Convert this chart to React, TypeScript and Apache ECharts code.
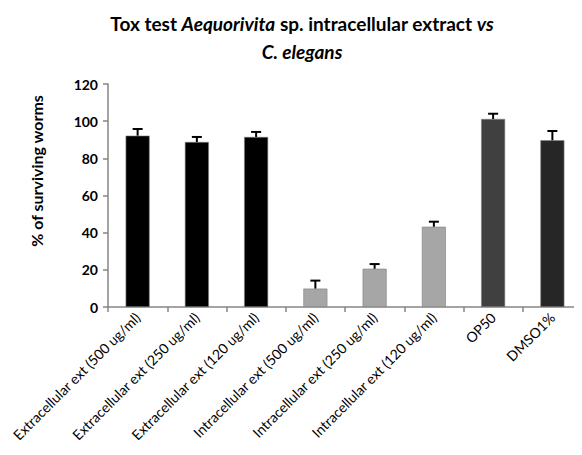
import React, { useEffect, useRef } from "react";
import * as echarts from "echarts";

const categories = [
  "Extracellular ext (500 ug/ml)",
  "Extracellular ext (250 ug/ml)",
  "Extracellular ext (120 ug/ml)",
  "Intracellular ext (500 ug/ml)",
  "Intracellular ext (250 ug/ml)",
  "Intracellular ext (120 ug/ml)",
  "OP50",
  "DMSO1%",
];
const survival = [92.2, 88.8, 91.5, 9.9, 20.6, 43.2, 101.2, 89.7];
const errors = [3.6, 2.7, 2.7, 4.3, 2.5, 2.7, 2.8, 5.0];
const barColors = ["#000000", "#000000", "#000000", "#a6a6a6", "#a6a6a6", "#a6a6a6", "#404040", "#262626"];
const yTicks = { min: 0, max: 120, interval: 20 };
const yAxisTitle = "% of surviving worms";

const FONT = "Lato, 'Open Sans', sans-serif";

export default function App() {
  const ref = useRef<HTMLDivElement>(null);
  useEffect(() => {
    if (!ref.current) return;
    const chart = echarts.init(ref.current, null, { renderer: "svg" });
    chart.setOption({
      animation: false,
      backgroundColor: "#ffffff",
      textStyle: { fontFamily: FONT },
      graphic: [
        {
          type: "text",
          x: 302,
          y: 9,
          style: {
            text: "{b|Tox test }{bi|Aequorivita}{b| sp. intracellular extract }{bi|vs}\n{bi|C. elegans}",
            textAlign: "center",
            fontFamily: FONT,
            rich: {
              b: { fontSize: 19, fontWeight: "bold", fontFamily: FONT, fill: "#000", lineHeight: 28 },
              bi: { fontSize: 19, fontWeight: "bold", fontStyle: "italic", fontFamily: FONT, fill: "#000", lineHeight: 28 },
            },
          },
        },
        {
          type: "text",
          x: 36,
          y: 171,
          rotation: Math.PI / 2,
          style: {
            text: yAxisTitle,
            textAlign: "center",
            textVerticalAlign: "middle",
            fontSize: 16,
            fontWeight: "bold",
            fontFamily: FONT,
            fill: "#000",
          },
        },
      ],
      grid: { left: 108, right: -2, top: 84, bottom: 148, containLabel: false },
      xAxis: {
        type: "category",
        data: categories,
        axisLine: { lineStyle: { color: "#868686", width: 1.5 } },
        axisTick: { show: true, length: 5, lineStyle: { color: "#868686", width: 1.5 } },
        axisLabel: {
          rotate: 45,
          interval: 0,
          color: "#000",
          fontSize: 14,
          fontFamily: FONT,
          margin: 8,
        },
      },
      yAxis: {
        type: "value",
        min: yTicks.min,
        max: yTicks.max,
        interval: yTicks.interval,
        splitLine: { show: false },
        axisLine: { show: true, lineStyle: { color: "#868686", width: 1.5 } },
        axisTick: { show: true, length: 5, lineStyle: { color: "#868686", width: 1.5 } },
        axisLabel: { color: "#000", fontSize: 14, fontWeight: "bold", fontFamily: FONT, margin: 10 },
      },
      series: [
        {
          type: "bar",
          data: survival.map((v, i) => ({ value: v, itemStyle: { color: barColors[i] } })),
          barWidth: 24,
          itemStyle: { borderColor: "#7f7f7f", borderWidth: 0.6 },
        },
        {
          type: "custom",
          data: survival.map((v, i) => [i, v, v + errors[i]]),
          renderItem: (params: any, api: any) => {
            const x = api.value(0);
            const lo = api.coord([x, api.value(1)]);
            const hi = api.coord([x, api.value(2)]);
            const cap = 5;
            return {
              type: "group",
              children: [
                { type: "line", shape: { x1: lo[0], y1: lo[1], x2: hi[0], y2: hi[1] }, style: { stroke: "#000", lineWidth: 2 } },
                { type: "line", shape: { x1: hi[0] - cap, y1: hi[1], x2: hi[0] + cap, y2: hi[1] }, style: { stroke: "#000", lineWidth: 2 } },
              ],
            };
          },
          z: 5,
        },
      ],
    });
    return () => chart.dispose();
  }, []);
  return <div ref={ref} style={{ width: 582, height: 455, margin: -8 }} />;
}
